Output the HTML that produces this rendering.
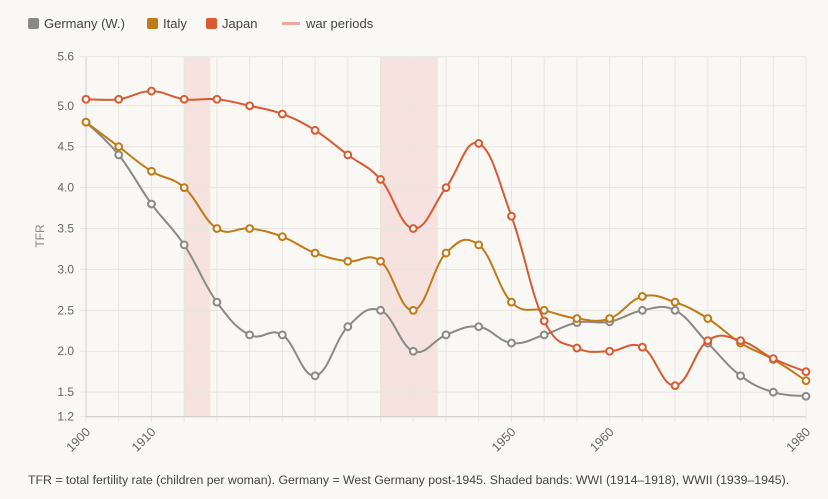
<!DOCTYPE html>
<html><head><meta charset="utf-8"><style>
body{margin:0;background:#faf8f4;font-family:"Liberation Sans",sans-serif;}
svg{display:block}
</style></head><body>
<svg id="chart" width="828" height="499" xmlns="http://www.w3.org/2000/svg">
<rect width="828" height="499" fill="#faf8f4"/>
<g id="legend" font-size="13" fill="#444">
 <g><rect x="28" y="18" width="11" height="11" rx="2" fill="#8a8985"/><text x="44" y="28">Germany (W.)</text></g>
 <g><rect x="147" y="18" width="11" height="11" rx="2" fill="#c07a17"/><text x="163" y="28">Italy</text></g>
 <g><rect x="206" y="18" width="11" height="11" rx="2" fill="#d95a32"/><text x="222" y="28">Japan</text></g>
 <g><rect x="282" y="22" width="18" height="3" fill="#eaa9a4"/><text x="306" y="28">war periods</text></g>
</g>
<g id="bands"></g><g id="grid"></g><g id="series"></g>
<text transform="translate(44,236) rotate(-90)" text-anchor="middle" font-size="12" fill="#888">TFR</text>
<text x="28" y="484" font-size="12.3" fill="#444">TFR = total fertility rate (children per woman). Germany = West Germany post-1945. Shaded bands: WWI (1914–1918), WWII (1939–1945).</text>
</svg>
<script>
const years=[1900,1905,1910,1913,1917,1920,1925,1930,1935,1940,1943,1946,1948,1950,1952,1955,1960,1963,1966,1970,1973,1976,1980];
const xLabelIdx=[0,2,13,16,22];
const germany=[4.8,4.4,3.8,3.3,2.6,2.2,2.2,1.7,2.3,2.5,2.0,2.2,2.3,2.1,2.2,2.35,2.36,2.5,2.5,2.1,1.7,1.5,1.45];
const italy=[4.8,4.5,4.2,4.0,3.5,3.5,3.4,3.2,3.1,3.1,2.5,3.2,3.3,2.6,2.5,2.4,2.4,2.67,2.6,2.4,2.1,1.9,1.64];
const japan=[5.08,5.08,5.18,5.08,5.08,5.0,4.9,4.7,4.4,4.1,3.5,4.0,4.54,3.65,2.37,2.04,2.0,2.05,1.58,2.13,2.13,1.91,1.75];
const yTicks=[1.2,1.5,2.0,2.5,3.0,3.5,4.0,4.5,5.0,5.6];
const bandStart=[3,9];
const bandEnd=[3.8,10.75];
const NS="http://www.w3.org/2000/svg";
const X0=86,X1=806,Y0=416.7,Y1=56.7,YMIN=1.2,YMAX=5.6;
const xs=i=>X0+(X1-X0)*i/(years.length-1);
const ys=v=>Y0-(v-YMIN)/(YMAX-YMIN)*(Y0-Y1);
function mk(t,a,p){const e=document.createElementNS(NS,t);for(const k in a)e.setAttribute(k,a[k]);p.appendChild(e);return e;}
const bands=document.getElementById('bands');
bandStart.forEach((s,i)=>{const r=mk('rect',{x:xs(s),y:Y1,width:xs(bandEnd[i])-xs(s),height:Y0-Y1,fill:'#f6e3df'},bands);

});
const grid=document.getElementById('grid');
years.forEach((y,i)=>{const l=mk('line',{x1:xs(i),x2:xs(i),y1:Y1,y2:Y0+5,stroke:'#e8e5e0','stroke-width':1},grid);

});
xLabelIdx.forEach(i=>{const t=mk('text',{x:xs(i)+5,y:Y0+16,'font-size':12.5,fill:'#666','text-anchor':'end',transform:`rotate(-45 ${xs(i)+5} ${Y0+16})`},grid);t.textContent=years[i];

});
yTicks.forEach(v=>{const l=mk('line',{x1:X0-6,x2:X1,y1:ys(v),y2:ys(v),stroke:'#e8e5e0'},grid);


const t=mk('text',{x:X0-12,y:ys(v)+4,'font-size':12,fill:'#666','text-anchor':'end'},grid);t.textContent=v.toFixed(1);

});
mk('line',{x1:X0,x2:X0,y1:Y1,y2:Y0,stroke:'#ccc'},grid);
mk('line',{x1:X0,x2:X1,y1:Y0,y2:Y0,stroke:'#ccc'},grid);
function path(vals){const p=vals.map((v,i)=>[xs(i),ys(v)]);let d=`M${p[0][0]},${p[0][1]}`;const t=0.4;
for(let i=0;i<p.length-1;i++){const a=p[i-1]||p[i],b=p[i],c=p[i+1],e=p[i+2]||c;
const c1=[b[0]+(c[0]-a[0])*t/2,b[1]+(c[1]-a[1])*t/2],c2=[c[0]-(e[0]-b[0])*t/2,c[1]-(e[1]-b[1])*t/2];
d+=`C${c1[0]},${c1[1]} ${c2[0]},${c2[1]} ${c[0]},${c[1]}`;}return d;}
const sg=document.getElementById('series');
[[germany,'#8a8985','germany'],[italy,'#c07a17','italy'],[japan,'#d95a32','japan']].forEach(([vals,col,n])=>{
const g=mk('g',{},sg);


mk('path',{d:path(vals),fill:'none',stroke:col,'stroke-width':2},g);
vals.forEach((v,i)=>{const c=mk('circle',{cx:xs(i),cy:ys(v),r:3.4,fill:'#faf8f4',stroke:col,'stroke-width':2},g);

});
});
</script>
</body></html>
